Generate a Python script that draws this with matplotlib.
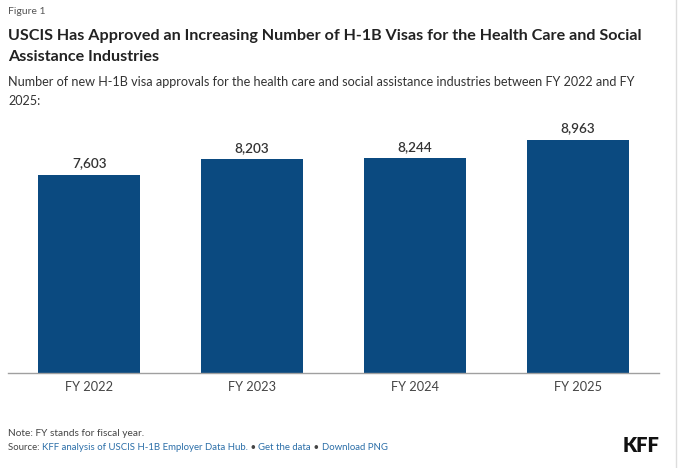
import matplotlib
matplotlib.use("Agg")
import matplotlib.pyplot as plt

# data
years = ["FY 2022", "FY 2023", "FY 2024", "FY 2025"]
approvals = [7603, 8203, 8244, 8963]

BAR = "#0b4a80"
W, H = 680, 468
plt.rcParams["font.family"] = ["Lato", "DejaVu Sans"]

fig = plt.figure(figsize=(W / 100, H / 100), dpi=100)
fig.patch.set_facecolor("white")
fig.canvas.draw()
r = fig.canvas.get_renderer()

def px(x, y):
    # pixel coords (top-left origin) -> figure fraction
    return x / W, 1 - y / H

def fit(t, width):
    # shrink/grow a text so it spans the same width as in the reference
    w = t.get_window_extent(renderer=r).width
    t.set_fontsize(t.get_fontsize() * width / w)
    return t.get_fontsize()

# plot area: baseline at y=373, spans x 8..659
scale = 198 / 7603.0  # px per visa
ax_top = 120
ax = fig.add_axes([8 / W, (H - 373) / H, 651 / W, (373 - ax_top) / H])
ymax = (373 - ax_top) / scale

xpos = range(len(years))
bars = ax.bar(xpos, approvals, width=0.627, color=BAR)
ax.set_xlim(-0.5, len(years) - 0.5)
ax.set_ylim(0, ymax)
for b, v in zip(bars, approvals):
    ax.annotate(f"{v:,}", (b.get_x() + b.get_width() / 2, v),
                xytext=(0, 4), textcoords="offset points",
                ha="center", va="bottom", fontsize=9.8, color="#333333",
                fontweight="semibold")

ax.set_xticks(list(xpos))
ax.set_xticklabels(years, fontsize=9.2, color="#444444")
ax.tick_params(axis="x", length=0, pad=6)
ax.set_yticks([])
for s in ["top", "right", "left"]:
    ax.spines[s].set_visible(False)
ax.spines["bottom"].set_color("#a0a0a0")
ax.spines["bottom"].set_linewidth(1)

# header
fig.text(*px(8, 12), "Figure 1", fontsize=7.5, color="#555555", va="center")
t1 = fig.text(*px(8, 36), "USCIS Has Approved an Increasing Number of H-1B Visas for the Health Care and Social",
              fontsize=12, fontweight="bold", color="#222222", va="center")
fs = fit(t1, 632)
fig.text(*px(8, 57), "Assistance Industries",
         fontsize=fs, fontweight="bold", color="#222222", va="center")
t2 = fig.text(*px(8, 82), "Number of new H-1B visa approvals for the health care and social assistance industries between FY 2022 and FY",
              fontsize=10, color="#333333", va="center")
fs = fit(t2, 625)
fig.text(*px(8, 101), "2025:", fontsize=fs, color="#333333", va="center")

# footer
fig.text(*px(8, 433), "Note: FY stands for fiscal year.", fontsize=7.3, color="#444444", va="center")
pieces = [("Source: ", "#444444"),
          ("KFF analysis of USCIS H-1B Employer Data Hub.", "#2b6ea8"),
          (" \u2022 ", "#444444"),
          ("Get the data", "#2b6ea8"),
          (" \u2022 ", "#444444"),
          ("Download PNG", "#2b6ea8")]
probe = fig.text(0, 0, "".join(s for s, _ in pieces), fontsize=7.3)
src_fs = fit(probe, 382)
probe.remove()
x = 8
for s, c in pieces:
    t = fig.text(*px(x, 448), s, fontsize=src_fs, color=c, va="center")
    x += t.get_window_extent(renderer=r).width
fig.text(*px(660, 446), "KFF", fontsize=14.5, fontweight="heavy", color="#111111",
         va="center", ha="right")

# thin right border seen in the screenshot
fig.add_artist(plt.Line2D([676 / W, 676 / W], [0, 1], color="#dddddd", lw=1))

fig.savefig("out.png", dpi=100, facecolor="white")
